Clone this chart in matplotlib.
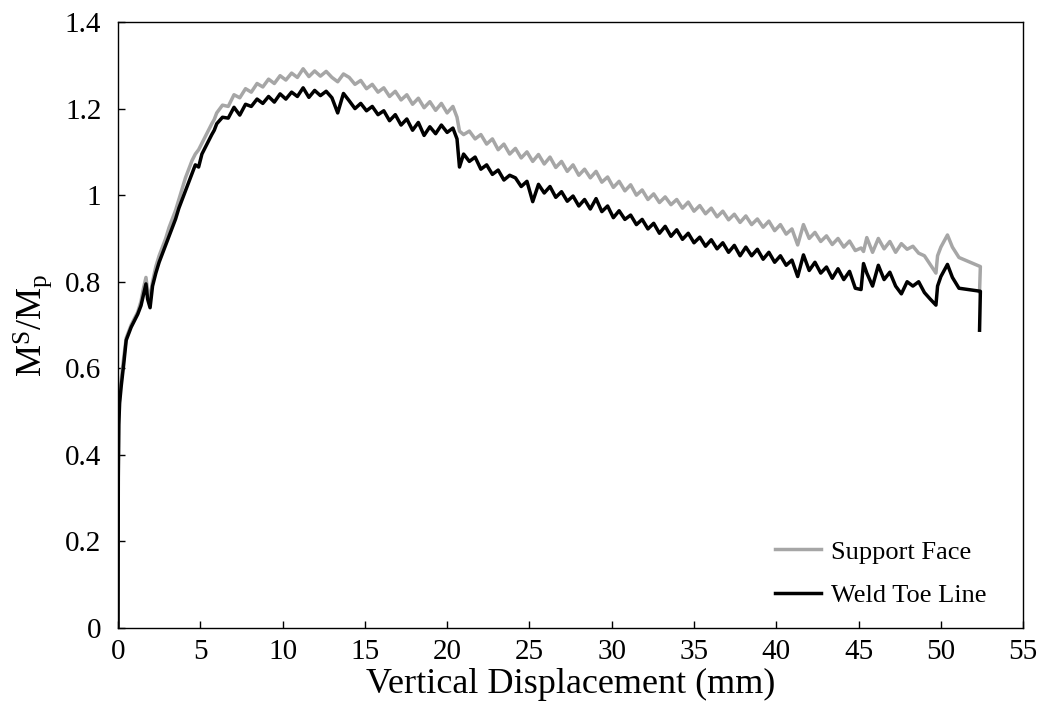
import matplotlib
matplotlib.use("Agg")
import matplotlib.pyplot as plt

plt.rcParams['font.family'] = ['Liberation Serif', 'DejaVu Serif']
plt.rcParams['mathtext.default'] = 'regular'

# vertical displacement (mm), shared by both curves
disp = [0, 0.02, 0.05, 0.1, 0.2, 0.35, 0.5, 0.65, 0.8, 1.0, 1.2, 1.4, 1.55, 1.7, 1.8,
        1.95, 2.1, 2.3, 2.5, 2.7, 2.9, 3.1, 3.3, 3.5, 3.7, 3.9, 4.1, 4.3, 4.5, 4.7,
        4.9, 5.1, 5.3, 5.5, 5.7, 5.85,
        6.0, 6.35, 6.7, 7.05, 7.4, 7.75, 8.1, 8.45, 8.8, 9.15, 9.5, 9.85, 10.2, 10.55,
        10.9, 11.25, 11.6, 11.95, 12.3, 12.65, 13.0, 13.35, 13.7, 14.05, 14.4, 14.75,
        15.1, 15.45, 15.8, 16.15, 16.5, 16.85, 17.2, 17.55, 17.9, 18.25, 18.6, 18.95,
        19.3, 19.65, 20.0, 20.35, 20.6, 20.75, 21.0, 21.35, 21.7, 22.05, 22.4, 22.75,
        23.1, 23.45, 23.8, 24.15, 24.5, 24.85, 25.2, 25.55, 25.9, 26.25, 26.6, 26.95,
        27.3, 27.65, 28.0, 28.35, 28.7, 29.05, 29.4, 29.75, 30.1, 30.45, 30.8, 31.15,
        31.5, 31.85, 32.2, 32.55, 32.9, 33.25, 33.6, 33.95, 34.3, 34.65, 35.0, 35.35,
        35.7, 36.05, 36.4, 36.75, 37.1, 37.45, 37.8, 38.15, 38.5, 38.85, 39.2, 39.55,
        39.9, 40.25, 40.6, 40.95, 41.3, 41.65, 42.0, 42.35, 42.7, 43.05, 43.4, 43.75,
        44.1, 44.45, 44.8, 45.15, 45.3, 45.5, 45.85, 46.2, 46.55, 46.9, 47.25, 47.6,
        47.95, 48.3, 48.65, 49.0, 49.35, 49.7, 49.8, 50.0, 50.4, 50.7, 51.1, 52.4, 52.35]

support_face = [0, 0.38, 0.49, 0.54, 0.575, 0.625, 0.67, 0.685, 0.70, 0.715, 0.73, 0.755, 0.785, 0.81, 0.78,
                0.765, 0.80, 0.835, 0.86, 0.88, 0.90, 0.925, 0.945, 0.965, 0.99, 1.015, 1.04, 1.06, 1.08, 1.095,
                1.105, 1.12, 1.135, 1.15, 1.165, 1.175,
                1.19, 1.208, 1.205, 1.232, 1.225, 1.246, 1.238, 1.258, 1.25, 1.268, 1.258, 1.276, 1.266, 1.282,
                1.272, 1.292, 1.274, 1.287, 1.275, 1.286, 1.272, 1.262, 1.28, 1.272, 1.256, 1.265,
                1.246, 1.256, 1.238, 1.248, 1.228, 1.24, 1.22, 1.232, 1.21, 1.224, 1.202, 1.216,
                1.196, 1.212, 1.19, 1.205, 1.18, 1.148, 1.14, 1.148, 1.13, 1.14, 1.118, 1.13,
                1.105, 1.118, 1.095, 1.108, 1.086, 1.1, 1.078, 1.094, 1.072, 1.088, 1.064, 1.078,
                1.055, 1.07, 1.046, 1.06, 1.04, 1.055, 1.03, 1.042, 1.018, 1.032, 1.01, 1.024,
                1.0, 1.012, 0.99, 1.003, 0.983, 0.996, 0.978, 0.99, 0.97, 0.984, 0.963, 0.976,
                0.957, 0.97, 0.95, 0.963, 0.943, 0.956, 0.937, 0.952, 0.932, 0.945, 0.926, 0.94,
                0.918, 0.932, 0.91, 0.922, 0.885, 0.932, 0.9, 0.914, 0.893, 0.906, 0.886, 0.9,
                0.88, 0.894, 0.872, 0.878, 0.87, 0.902, 0.868, 0.9, 0.876, 0.893, 0.868, 0.888,
                0.875, 0.882, 0.866, 0.86, 0.84, 0.82, 0.86, 0.88, 0.908, 0.88, 0.856, 0.835, 0.777]

weld_toe_line = [0, 0.35, 0.47, 0.52, 0.56, 0.61, 0.665, 0.68, 0.695, 0.71, 0.725, 0.745, 0.77, 0.795, 0.76,
                 0.74, 0.79, 0.82, 0.845, 0.865, 0.885, 0.905, 0.925, 0.945, 0.97, 0.99, 1.01, 1.03, 1.05, 1.07,
                 1.065, 1.095, 1.11, 1.125, 1.14, 1.15,
                 1.165, 1.18, 1.178, 1.203, 1.185, 1.21, 1.205, 1.222, 1.212, 1.228, 1.215, 1.234, 1.222, 1.238,
                 1.228, 1.248, 1.226, 1.242, 1.23, 1.24, 1.225, 1.19, 1.235, 1.218, 1.2, 1.212,
                 1.195, 1.205, 1.186, 1.195, 1.172, 1.186, 1.162, 1.176, 1.15, 1.168, 1.138, 1.158,
                 1.142, 1.162, 1.145, 1.155, 1.13, 1.065, 1.095, 1.078, 1.088, 1.06, 1.07, 1.048,
                 1.058, 1.035, 1.046, 1.04, 1.02, 1.032, 0.985, 1.025, 1.005, 1.02, 0.995, 1.008,
                 0.986, 0.998, 0.975, 0.99, 0.968, 0.992, 0.962, 0.975, 0.948, 0.964, 0.944, 0.954,
                 0.932, 0.944, 0.922, 0.935, 0.912, 0.928, 0.905, 0.92, 0.898, 0.912, 0.89, 0.903,
                 0.882, 0.897, 0.876, 0.89, 0.868, 0.884, 0.86, 0.88, 0.86, 0.875, 0.852, 0.868,
                 0.845, 0.86, 0.838, 0.85, 0.812, 0.862, 0.826, 0.845, 0.82, 0.834, 0.808, 0.83,
                 0.805, 0.824, 0.785, 0.782, 0.842, 0.82, 0.79, 0.838, 0.805, 0.822, 0.79, 0.772,
                 0.8, 0.79, 0.8, 0.775, 0.76, 0.746, 0.79, 0.812, 0.84, 0.81, 0.785, 0.778, 0.688]

x_ticks = [0, 5, 10, 15, 20, 25, 30, 35, 40, 45, 50, 55]
y_ticks = [0, 0.2, 0.4, 0.6, 0.8, 1.0, 1.2, 1.4]
y_tick_labels = ['0', '0.2', '0.4', '0.6', '0.8', '1', '1.2', '1.4']

fig = plt.figure(figsize=(10.45, 7.13), dpi=100)
ax = fig.add_axes([0.1129, 0.1192, 0.8662, 0.8499])

ax.plot(disp, support_face, color='#a6a6a6', lw=2.5, label='Support Face')
ax.plot(disp, weld_toe_line, color='black', lw=2.5, label='Weld Toe Line')

ax.set_xlim(0, 55)
ax.set_ylim(0, 1.4)
ax.set_xticks(x_ticks)
ax.set_yticks(y_ticks)
ax.set_yticklabels(y_tick_labels)
ax.tick_params(direction='in', length=5, width=1, labelsize=21)
ax.tick_params(axis='x', pad=8)
ax.tick_params(axis='y', pad=12)
for s in ax.spines.values():
    s.set_linewidth(1)

ax.set_xlabel('Vertical Displacement (mm)', fontsize=26, labelpad=2)
ax.set_ylabel('M$^{S}$/M$_{p}$', fontsize=26, labelpad=8)

ax.legend(loc='lower left', bbox_to_anchor=(0.726, 0.035), frameon=False, fontsize=19,
          handlelength=1.75, handletextpad=0.35, borderpad=0, borderaxespad=0, labelspacing=0.75)

fig.savefig('out.png', dpi=100)
